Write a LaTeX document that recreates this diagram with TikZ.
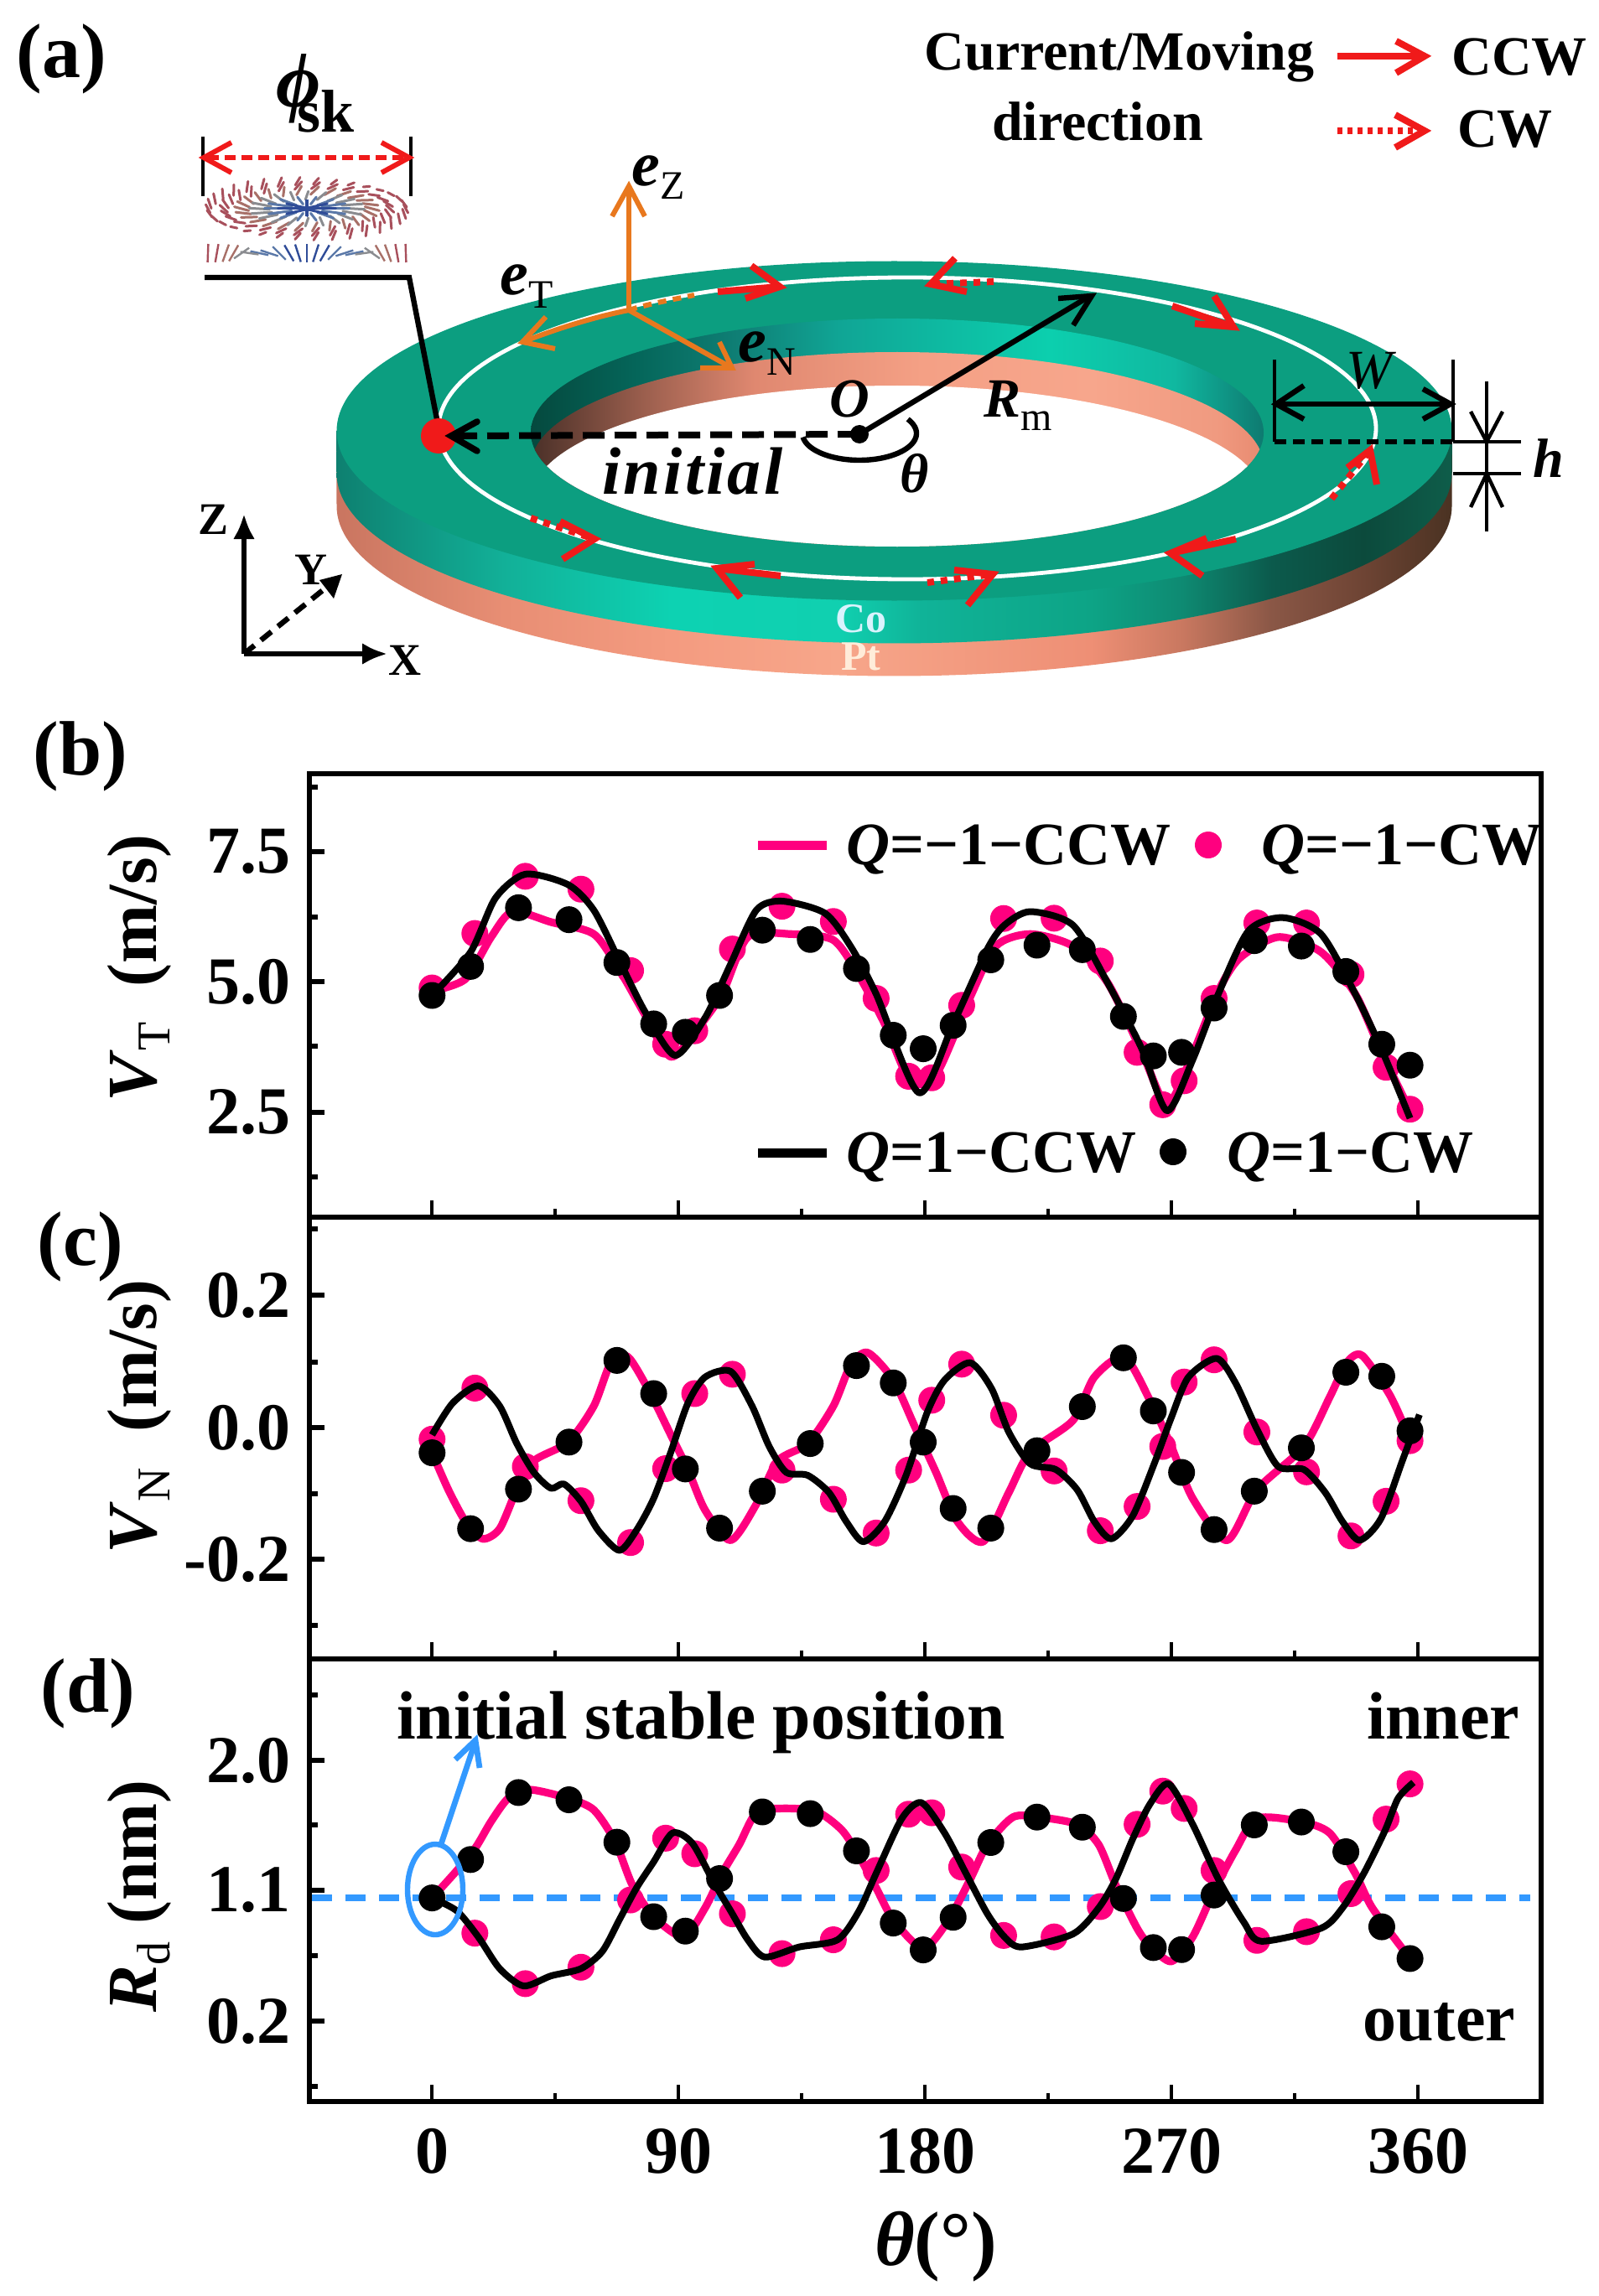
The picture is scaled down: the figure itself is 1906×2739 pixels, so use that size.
\documentclass[tikz,border=0pt]{standalone}
\usepackage{fontspec}
\setmainfont{Liberation Serif}
\usetikzlibrary{arrows.meta}
\definecolor{teal1}{HTML}{0C9E80}
\definecolor{pk}{HTML}{FF007F}
\definecolor{org}{HTML}{E8781E}
\definecolor{rd}{HTML}{F01A1A}
\definecolor{bl}{HTML}{3399FF}
\definecolor{skA}{HTML}{A8505C}
\definecolor{skB}{HTML}{A87068}
\definecolor{skC}{HTML}{8A8C90}
\definecolor{skD}{HTML}{5A78A8}
\definecolor{skE}{HTML}{2F4C98}
\definecolor{c01}{HTML}{0E8070}\definecolor{c02}{HTML}{12B098}\definecolor{c03}{HTML}{0DD2B2}\definecolor{c04}{HTML}{10D0B0}\definecolor{c05}{HTML}{10B398}\definecolor{c06}{HTML}{0DA486}\definecolor{c07}{HTML}{0E8A72}\definecolor{c08}{HTML}{0C5A4C}\definecolor{c09}{HTML}{0C4A3C}\definecolor{c10}{HTML}{0E5D4A}
\pgfdeclarehorizontalshading{coside}{100bp}{color(0bp)=(c01); color(25bp)=(c01); color(32.5bp)=(c02); color(40bp)=(c03); color(47.5bp)=(c04); color(51.2bp)=(c05); color(58.8bp)=(c06); color(62.9bp)=(c07); color(66.9bp)=(c08); color(71bp)=(c09); color(75bp)=(c10); color(100bp)=(c10)}
\definecolor{p01}{HTML}{C97560}\definecolor{p02}{HTML}{E88E74}\definecolor{p03}{HTML}{F49B80}\definecolor{p04}{HTML}{F7A68A}\definecolor{p05}{HTML}{EE8F75}\definecolor{p06}{HTML}{C97860}\definecolor{p07}{HTML}{8A5746}\definecolor{p08}{HTML}{6E4434}\definecolor{p09}{HTML}{4A3222}
\pgfdeclarehorizontalshading{ptside}{100bp}{color(0bp)=(p01); color(25bp)=(p01); color(32.5bp)=(p02); color(40bp)=(p03); color(47.5bp)=(p04); color(58.8bp)=(p05); color(62.9bp)=(p06); color(66.9bp)=(p07); color(71bp)=(p08); color(75bp)=(p09); color(100bp)=(p09)}
\definecolor{g01}{HTML}{05493E}\definecolor{g02}{HTML}{05665A}\definecolor{g03}{HTML}{0F7F75}\definecolor{g04}{HTML}{10A595}\definecolor{g05}{HTML}{0CCFAE}\definecolor{g06}{HTML}{10B8A0}\definecolor{g07}{HTML}{0E7A70}
\pgfdeclarehorizontalshading{wallgr}{100bp}{color(0bp)=(g01); color(25bp)=(g01); color(32.3bp)=(g02); color(39.1bp)=(g03); color(46bp)=(g04); color(60.4bp)=(g05); color(68.9bp)=(g06); color(75bp)=(g07); color(100bp)=(g07)}
\definecolor{w01}{HTML}{4A3028}\definecolor{w02}{HTML}{9C5F4E}\definecolor{w03}{HTML}{E08870}\definecolor{w04}{HTML}{F4A085}\definecolor{w05}{HTML}{F7A68C}\definecolor{w06}{HTML}{F09A80}\definecolor{w07}{HTML}{E88A70}
\pgfdeclarehorizontalshading{wallpt}{100bp}{color(0bp)=(w01); color(25bp)=(w01); color(32.8bp)=(w02); color(40.3bp)=(w03); color(51.7bp)=(w04); color(63.2bp)=(w05); color(71.8bp)=(w06); color(75bp)=(w07); color(100bp)=(w07)}
\tikzset{
  txt/.style={inner sep=0pt,outer sep=0pt},
  big/.style={txt,font={\bfseries\fontsize{46}{50}\selectfont}},
  tick/.style={txt,font={\bfseries\fontsize{40}{44}\selectfont}},
  leg/.style={txt,font={\bfseries\fontsize{36}{40}\selectfont}},
  ann/.style={txt,font={\bfseries\fontsize{33}{36}\selectfont}},
  ax/.style={txt,font={\bfseries\fontsize{27}{30}\selectfont}},
  frame/.style={draw=black,line width=3pt},
  majx/.style={draw=black,line width=2.2pt},
  majy/.style={draw=black,line width=3pt},
  redshaft/.style={draw=rd,line width=4pt},
  reddot/.style={draw=rd,line width=4pt,dash pattern=on 4pt off 4pt},
  redhead/.style={draw=rd,line width=4pt,miter limit=4},
  orgline/.style={draw=org,line width=3pt},
  blk/.style={draw=black,line width=3.2pt},
  thin/.style={draw=black,line width=1.8pt},
  pcurve/.style={draw=pk,line width=4.6pt,line join=round},
  kcurve/.style={draw=black,line width=4pt,line join=round},
}
\begin{document}
\begin{tikzpicture}[x=0.5pt,y=-0.5pt]
\useasboundingbox (0,0) rectangle (1906,2739);
% ---------- ring ----------
\shade[shading=ptside] plot[variable=\t,domain=0:180,samples=120] ({1066.5+665*cos(\t)},{604+202.5*sin(\t)}) -- (401,514) -- (1732,514) -- cycle;
\shade[shading=coside] plot[variable=\t,domain=0:180,samples=120] ({1066.5+665*cos(\t)},{565+202.5*sin(\t)}) -- (401,514) -- (1732,514) -- cycle;
\fill[teal1] (1066.5,514) ellipse [x radius=332.5pt,y radius=101.25pt];
\begin{scope}
\clip (1070,516) ellipse [x radius=218.5pt,y radius=68pt];
\shade[shading=wallgr] (633,370) rectangle (1507,670);
\shade[shading=wallpt] (1070,556) ellipse [x radius=218.5pt,y radius=68pt];
\fill[white] (1070,596) ellipse [x radius=218.5pt,y radius=68pt];
\end{scope}
\draw[white,line width=2.4pt] (1082,511) ellipse [x radius=279.5pt,y radius=90pt];
% ring labels
\node[txt,text=white!85!cyan,font={\bfseries\fontsize{25}{28}\selectfont}] (lblCo) at (1027,738) {Co};
\node[txt,text=white!85!orange,font={\bfseries\fontsize{25}{28}\selectfont}] (lblPt) at (1027,783) {Pt};
% red arrows on ring
\draw[redshaft] (856,348) -- (930,342);
\draw[redhead] (896,317) -- (930,342) -- (889,356);
\draw[reddot] (1185,336) -- (1110,339);
\draw[redhead] (1139,308) -- (1110,339) -- (1153,348);
\draw[redshaft] (1398,365) -- (1471,390);
\draw[redhead] (1448,353) -- (1471,390) -- (1425,386);
\draw[reddot] (1588,595) -- (1634,537);
\draw[redhead] (1607,558) -- (1634,537) -- (1642,578);
\draw[redshaft] (1474,643) -- (1396,660);
\draw[redhead] (1439,642) -- (1396,660) -- (1434,687);
\draw[reddot] (1106,695) -- (1184,685);
\draw[redhead] (1138,680) -- (1184,685) -- (1154,722);
\draw[redshaft] (931,687) -- (855,678);
\draw[redhead] (900,673) -- (855,678) -- (883,713);
\draw[reddot] (633,618) -- (709,643);
\draw[redhead] (668,622) -- (709,643) -- (671,667);
% orange frame
\coordinate (eO) at (750,370);
\draw[draw=org,line width=3pt,dash pattern=on 5pt off 4pt] (eO) .. controls (775,362) and (800,358) .. (828,352);
\draw[orgline] (eO) -- (750,225);
\draw[orgline] (730,258) -- (750,222) -- (769,258);
\draw[orgline] (eO) .. controls (710,378) and (670,390) .. (623,408);
\draw[orgline] (651,378) -- (623,408) -- (662,416);
\draw[orgline] (eO) -- (873,439);
\draw[orgline] (858,408) -- (873,439) -- (835,439);
\node[txt,anchor=base,font={\bfseries\itshape\fontsize{38}{40}\selectfont}] (eZ) at (785,222) {e\raisebox{-8pt}{\normalfont\fontsize{24}{26}\selectfont Z}};
\node[txt,anchor=base,font={\bfseries\itshape\fontsize{38}{40}\selectfont}] (eT) at (628,352) {e\raisebox{-8pt}{\normalfont\fontsize{24}{26}\selectfont T}};
\node[txt,anchor=base,font={\bfseries\itshape\fontsize{38}{40}\selectfont}] (eN) at (915,432) {e\raisebox{-8pt}{\normalfont\fontsize{24}{26}\selectfont N}};
% skyrmion
\foreach \r/\n/\s/\c in {1/34/50/skA,0.84/30/45/skA,0.66/26/25/skB,0.48/20/8/skC,0.3/14/0/skD,0.14/8/0/skE}{
  \foreach \i in {1,...,\n}{
    \pgfmathsetmacro\t{360*\i/\n}
    \draw[\c,line width=1.5pt,line cap=round] ({366+118*\r*cos(\t)-(4+16*(1-\r))*cos(\t+\s)},{249+33*\r*sin(\t)-(6.5-3*(1-\r))*sin(\t+\s)}) -- ({366+118*\r*cos(\t)+(4+16*(1-\r))*cos(\t+\s)},{249+33*\r*sin(\t)+(6.5-3*(1-\r))*sin(\t+\s)});
  }}
\draw[skE,line width=1.8pt] (366,238) -- (366,258);
\foreach \u/\a/\c in {0/90/skE,0.09/72/skE,0.18/60/skE,0.28/45/skD,0.38/18/skD,0.48/12/skD,0.58/8/skC,0.66/-35/skC,0.74/-60/skB,0.82/-70/skB,0.91/-80/skA,1/-88/skA}{
  \draw[\c,line width=1.2pt] ({366+118*\u-11*cos(\a)},{302+11*sin(\a)}) -- ({366+118*\u+11*cos(\a)},{302-11*sin(\a)});
  \draw[\c,line width=1.2pt] ({366-118*\u+11*cos(\a)},{302+11*sin(\a)}) -- ({366-118*\u-11*cos(\a)},{302-11*sin(\a)});
}
% phi dimension
\draw[thin] (242,163) -- (242,234);
\draw[thin] (490,163) -- (490,234);
\draw[draw=rd,line width=3pt,dash pattern=on 6.5pt off 3.5pt] (248,188) -- (484,188);
\draw[redhead,line width=3pt] (276,170) -- (243,188) -- (276,206);
\draw[redhead,line width=3pt] (455,170) -- (488,188) -- (455,206);
\node[txt,anchor=base west,font={\bfseries\itshape\fontsize{46}{50}\selectfont}] (lblPhi) at (329,128) {ϕ\kern-14pt\raisebox{-15pt}{\normalfont\bfseries\fontsize{36}{40}\selectfont sk}};
% leader
\draw[blk,line join=miter] (244,331) -- (488,331) -- (522,505);
% initial
\fill[rd] (523,520) circle [radius=10.5pt];
\coordinate (ctr) at (1025,518);
\draw[draw=black,line width=4pt,dash pattern=on 13pt off 6pt] (ctr) -- (545,520);
\draw[draw=black,line width=3.8pt,line cap=round] (569,503) -- (538,520) -- (569,538);
\fill[black] (ctr) circle [radius=5.5pt];
\draw[draw=black,line width=3.2pt] plot[variable=\t,domain=172:-32,samples=50] ({1025+68*cos(\t)},{517+32*sin(\t)});
\draw[blk] (ctr) -- (1300,353);
\draw[blk] (1262,356) -- (1302,353) -- (1280,388);
\node[txt,font={\bfseries\itshape\fontsize{40}{44}\selectfont\addfontfeature{LetterSpace=4}}] (lblInit) at (826,562) {initial};
\node[ann,font={\bfseries\itshape\fontsize{33}{36}\selectfont}] (lblO) at (1013,476) {O};
\node[ann,anchor=base] (lblR) at (1214,498) {\textit{R}\raisebox{-8pt}{\normalfont\fontsize{24}{26}\selectfont m}};
\node[txt,font={\bfseries\itshape\fontsize{33}{36}\selectfont}] (lblTh) at (1091,565) {θ};
% W, h
\draw[thin] (1520,429) -- (1520,527);
\draw[thin] (1733,429) -- (1733,527);
\draw[blk] (1522,482) -- (1730,482);
\draw[blk] (1555,460) -- (1522,482) -- (1555,500);
\draw[blk] (1697,464) -- (1730,482) -- (1697,500);
\draw[draw=black,line width=3.2pt,dash pattern=on 7pt off 4pt] (1520,527) -- (1733,527);
\draw[draw=black,line width=2.2pt] (1733,527) -- (1814,527);
\draw[draw=black,line width=2.2pt] (1733,565) -- (1814,565);
\draw[draw=black,line width=2.2pt] (1773,455) -- (1773,634);
\draw[draw=black,line width=2.2pt] (1754,491) -- (1773,527) -- (1792,491);
\draw[draw=black,line width=2.2pt] (1754,605) -- (1773,565) -- (1792,605);
\node[txt,font={\itshape\fontsize{33}{36}\selectfont}] (lblW) at (1633,442) {W};
\node[txt,font={\bfseries\itshape\fontsize{33}{36}\selectfont}] (lblh) at (1847,547) {h};
% axes triad
\coordinate (axO) at (291,780);
\draw[draw=black,line width=3.2pt,-{Latex[length=15pt,width=13pt]}] (axO) -- (291,613);
\draw[draw=black,line width=3.2pt,-{Latex[length=15pt,width=13pt]}] (axO) -- (462,780);
\draw[draw=black,line width=3.2pt,dash pattern=on 8pt off 5pt] (axO) -- (395,696);
\fill[black] (408,685) -- (398,714) -- (381,692) -- cycle;
\node[ax] (lblZ) at (255,620) {Z};
\node[ax] (lblY) at (371,680) {Y};
\node[ax] (lblX) at (483,788) {X};
% legend (a)
\node[txt,font={\bfseries\fontsize{33}{36}\selectfont}] (lgA) at (1335,68) {Current/Moving};
\node[txt,font={\bfseries\fontsize{33}{36}\selectfont}] (lgB) at (1309,145) {direction};
\node[txt,font={\bfseries\fontsize{33}{36}\selectfont}] (lgC) at (1812,68) {CCW};
\node[txt,font={\bfseries\fontsize{33}{36}\selectfont}] (lgD) at (1795,154) {CW};
\draw[redshaft] (1595,67) -- (1697,67);
\draw[redhead] (1665,49) -- (1699,67) -- (1665,87);
\draw[draw=rd,line width=4pt,dash pattern=on 3pt off 3pt] (1595,156) -- (1697,156);
\draw[redhead] (1664,137) -- (1699,156) -- (1664,176);
% panel letters
\node[big] (pa) at (73,70) {(a)};
\node[big] (pb) at (96,902) {(b)};
\node[big] (pc) at (96,1487) {(c)};
\node[big] (pd) at (105,2020) {(d)};
% ---------- frames ----------
\draw[frame] (369,923) rectangle (1838,1452);
\draw[frame] (369,1452) rectangle (1838,1979);
\draw[frame] (369,1979) rectangle (1838,2507);
\foreach \yb in {1452,1979,2507}{
  \foreach \x in {515,809,1103,1397,1691}{\draw[majx] (\x,\yb) -- (\x,{\yb-20});}
  \foreach \x in {662,956,1250,1544}{\draw[majx] (\x,\yb) -- (\x,{\yb-10});}
}
\foreach \y in {1016,1171,1327,1545,1703,1860,2100,2255,2411}{\draw[majy] (369,\y) -- (387,\y);}
\foreach \y in {939,1094,1248,1404,1466,1625,1782,1939,2022,2177,2333,2489}{\draw[majy] (369,\y) -- (379,\y);}
% tick labels
\foreach \y/\s/\n in {1016/7.5/ya,1171/5.0/yb,1327/2.5/yc,1545/0.2/yd,1703/0.0/ye,1860/-0.2/yf,2100/2.0/yg,2255/1.1/yh,2411/0.2/yi}{
  \node[tick,anchor=east] (\n) at (346,\y) {\s};
}
\foreach \x/\s in {515/0,809/90,1103/180,1397/270,1691/360}{
  \node[tick] (xl\s) at (\x,2566) {\s};
}
% axis labels
\node[txt,rotate=90,font={\bfseries\fontsize{42}{46}\selectfont}] (yb1) at (166,1155) {\textit{V}\raisebox{-8pt}{\normalfont\fontsize{28}{30}\selectfont T}\ \ (m/s)};
\node[txt,rotate=90,font={\bfseries\fontsize{42}{46}\selectfont}] (yb2) at (166,1690) {\textit{V}\raisebox{-8pt}{\normalfont\fontsize{28}{30}\selectfont N}\ \ (m/s)};
\node[txt,rotate=90,font={\bfseries\fontsize{42}{46}\selectfont}] (yb3) at (166,2262) {\textit{R}\raisebox{-8pt}{\normalfont\fontsize{28}{30}\selectfont d}\ (nm)};
\node[txt,font={\bfseries\fontsize{46}{50}\selectfont}] (xlab) at (1116,2680) {\textit{θ}(°)};
% ---------- panel b data ----------
\begin{scope}[shift={(300,900)},x=0.5102pt,y=-0.17857pt]
\draw[pcurve] plot[smooth,tension=0.45] coordinates {(211,790)(250,750)(280,610)(305,525)(350,560)(400,600)(430,720)(460,870)(490,1010)(520,920)(550,800)(580,610)(630,600)(680,620)(710,740)(740,900)(770,1090)(800,1070)(840,810)(870,640)(910,600)(960,640)(1000,760)(1040,990)(1070,1170)(1100,1000)(1130,790)(1155,680)(1200,610)(1250,660)(1290,800)(1320,990)(1354,1190)};
\foreach \p in {(211,780),(261,598),(320,407),(385,450),(443,722),(484,968),(518,923),(562,650),(620,507),(680,558),(730,815),(768,1075),(795,1080),(830,838),(879,548),(938,547),(992,690),(1035,995),(1065,1170),(1090,1090),(1125,815),(1175,563),(1233,563),(1285,735),(1326,1045),(1354,1185)} \fill[pk] \p circle [radius=8pt];
\draw[kcurve] plot[smooth,tension=0.45] coordinates {(211,805)(256,660)(285,480)(320,400)(370,435)(400,520)(430,690)(460,860)(495,1005)(530,880)(560,700)(590,520)(620,490)(670,530)(700,640)(730,800)(780,1130)(820,900)(860,650)(880,570)(910,525)(960,570)(1000,760)(1040,980)(1070,1190)(1100,1020)(1130,800)(1165,590)(1205,545)(1250,600)(1290,800)(1320,980)(1354,1215)};
\foreach \p in {(211,805),(256,708),(312,512),(371,552),(427,695),(470,900),(507,928),(547,805),(597,587),(653,618),(707,715),(750,938),(785,983),(820,905),(864,686),(918,637),(971,652),(1019,875),(1054,1007),(1087,995),(1125,847),(1172,622),(1227,640),(1279,725),(1321,968),(1354,1038)} \fill[black] \p circle [radius=8pt];
\end{scope}
% legend b
\draw[draw=pk,line width=5.5pt] (904,1008) -- (986,1008);
\fill[pk] (1441,1008) circle [radius=8pt];
\node[leg,anchor=base west] (lg1) at (1009,1031) {\textit{Q}=−1−CCW};
\node[leg,anchor=base west] (lg2) at (1504,1031) {\textit{Q}=−1−CW};
\draw[draw=black,line width=5.5pt] (904,1375) -- (986,1375);
\fill[black] (1399,1374) circle [radius=8pt];
\node[leg,anchor=base west] (lg3) at (1009,1398) {\textit{Q}=1−CCW};
\node[leg,anchor=base west] (lg4) at (1463,1398) {\textit{Q}=1−CW};
% ---------- panel c data ----------
\begin{scope}[shift={(300,1450)},x=0.5102pt,y=-0.17218pt]
\draw[pcurve] plot[smooth,tension=0.45] coordinates {(211,822)(230,950)(250,1060)(270,1120)(290,1085)(310,950)(330,850)(370,785)(400,660)(420,510)(440,490)(465,610)(490,760)(510,880)(530,1020)(560,1125)(590,1000)(615,850)(650,790)(680,660)(700,520)(720,475)(750,570)(775,730)(800,890)(825,1060)(855,1130)(885,960)(910,820)(960,710)(985,560)(1020,490)(1050,640)(1075,800)(1100,980)(1140,1125)(1175,950)(1230,800)(1260,630)(1280,510)(1298,485)(1330,620)(1350,750)(1354,800)};
\foreach \p in {(211,775),(261,598),(320,870),(385,988),(443,1133),(484,877),(518,617),(562,550),(620,882),(680,983),(730,1100),(768,882),(795,640),(830,515),(879,692),(938,885),(992,1092),(1035,1008),(1065,800),(1090,577),(1125,500),(1175,750),(1233,888),(1285,1110),(1326,990),(1354,780)} \fill[pk] \p circle [radius=8pt];
\draw[kcurve] plot[smooth,tension=0.45] coordinates {(211,760)(235,650)(265,590)(290,660)(310,790)(330,890)(350,945)(365,930)(385,990)(405,1090)(430,1160)(450,1090)(470,980)(490,820)(510,650)(530,560)(560,540)(585,660)(605,800)(625,890)(650,900)(675,960)(695,1060)(715,1130)(740,1060)(765,900)(790,680)(810,570)(840,510)(865,600)(885,750)(910,860)(940,880)(965,950)(985,1060)(1005,1120)(1030,1040)(1055,860)(1075,700)(1095,560)(1128,495)(1150,580)(1175,740)(1200,870)(1230,880)(1255,960)(1275,1060)(1295,1125)(1320,1050)(1345,850)(1365,690)};
\foreach \p in {(211,822),(256,1085),(312,948),(371,785),(427,502),(470,617),(507,878),(547,1083),(597,955),(653,790),(707,520),(750,580),(785,785),(820,1015),(864,1083),(918,815),(971,662),(1019,493),(1054,677),(1087,890),(1125,1088),(1172,955),(1227,805),(1279,543),(1321,557),(1354,746)} \fill[black] \p circle [radius=8pt];
\end{scope}
% ---------- panel d data ----------
\draw[draw=bl,line width=4.3pt,dash pattern=on 12pt off 8pt] (372,2264) -- (1825,2264);
\begin{scope}[shift={(300,1980)},x=0.5102pt,y=-0.17218pt]
\draw[pcurve] plot[smooth,tension=0.45] coordinates {(211,825)(240,730)(262,650)(280,560)(300,480)(325,450)(370,480)(400,520)(425,630)(445,780)(470,890)(505,960)(530,860)(550,740)(570,640)(590,530)(620,515)(660,525)(690,590)(710,680)(730,790)(750,900)(785,1000)(815,900)(840,760)(860,640)(890,545)(920,545)(965,570)(990,640)(1010,780)(1035,930)(1050,990)(1075,1045)(1100,960)(1125,800)(1150,660)(1175,550)(1225,560)(1260,600)(1290,740)(1310,860)(1354,1035)};
\foreach \p in {(261,947),(320,1122),(385,1065),(443,832),(484,618),(518,672),(562,880),(620,1018),(680,970),(730,730),(768,535),(795,530),(830,718),(879,955),(938,960),(992,855),(1035,570),(1065,455),(1090,515),(1125,730),(1175,972),(1233,942),(1285,810),(1326,552),(1354,430)} \fill[pk] \p circle [radius=8pt];
\draw[kcurve] plot[smooth,tension=0.45] coordinates {(211,825)(240,870)(265,960)(290,1070)(318,1130)(350,1095)(385,1070)(410,1010)(430,900)(450,790)(470,700)(492,600)(515,635)(540,770)(560,870)(580,970)(600,1030)(640,995)(685,970)(710,870)(730,740)(760,550)(783,495)(810,600)(835,740)(860,880)(880,960)(900,995)(960,950)(990,860)(1010,760)(1030,620)(1050,500)(1072,430)(1100,570)(1130,760)(1160,910)(1180,975)(1250,930)(1275,860)(1300,740)(1325,590)(1340,480)(1358,425)};
\foreach \p in {(211,825),(256,692),(312,460),(371,485),(427,632),(470,890),(507,940),(547,758),(597,527),(653,533),(707,662),(750,912),(785,1005),(820,892),(864,633),(918,545),(971,580),(1019,827),(1054,997),(1087,1004),(1125,815),(1172,572),(1227,562),(1279,665),(1321,925),(1354,1035)} \fill[black] \p circle [radius=8pt];
\end{scope}
\draw[draw=bl,line width=3.2pt] (519,2254) ellipse [x radius=16.5pt,y radius=27pt];
\draw[draw=bl,line width=3.4pt] (526,2200) -- (566,2080);
\draw[draw=bl,line width=3.4pt] (543,2099) -- (567,2076) -- (572,2109);
\node[txt,anchor=base west,font={\bfseries\fontsize{40.8}{44}\selectfont}] (lblStable) at (473,2074) {initial stable position};
\node[tick,anchor=base west] (lblInner) at (1630,2074) {inner};
\node[tick,anchor=base west] (lblOuter) at (1625,2434) {outer};
\end{tikzpicture}
\end{document}
